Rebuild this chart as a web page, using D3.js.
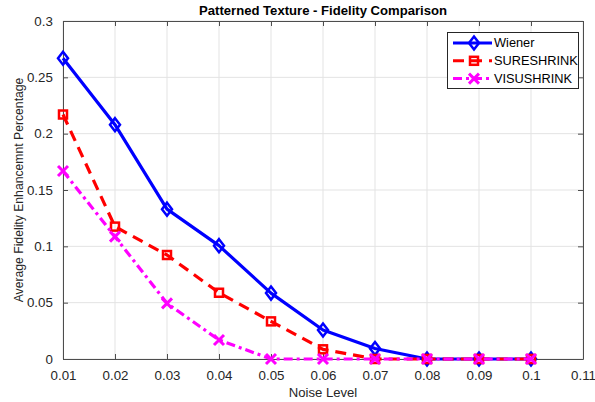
<!DOCTYPE html>
<html>
<head>
<meta charset="utf-8">
<script src="https://cdn.jsdelivr.net/npm/d3@7"></script>
<style>
  html, body { margin: 0; padding: 0; background: #fff; }
  svg { display: block; font-family: "Liberation Sans", Arial, sans-serif; }
</style>
</head>
<body>
<svg id="chart" width="595" height="402"></svg>
<script>
// Noise levels on the x axis
const noiseLevels = [0.01, 0.02, 0.03, 0.04, 0.05, 0.06, 0.07, 0.08, 0.09, 0.10];

// Average fidelity enhancement for each denoising method
const wiener     = [0.267, 0.208, 0.133, 0.1006, 0.0585, 0.0257, 0.0093, 0, 0, 0];
const sureShrink = [0.217, 0.1175, 0.0923, 0.0588, 0.0334, 0.0086, 0, 0, 0, 0];
const visuShrink = [0.1669, 0.1086, 0.0494, 0.0169, 0, 0, 0, 0, 0, 0];

const seriesNames = ["Wiener", "SURESHRINK", "VISUSHRINK"];

// Axis tick values
const xTicks = [0.01, 0.02, 0.03, 0.04, 0.05, 0.06, 0.07, 0.08, 0.09, 0.10, 0.11];
const xTickLabels = ["0.01", "0.02", "0.03", "0.04", "0.05", "0.06", "0.07", "0.08", "0.09", "0.1", "0.11"];
const yTicks = [0, 0.05, 0.1, 0.15, 0.2, 0.25, 0.3];
const yTickLabels = ["0", "0.05", "0.1", "0.15", "0.2", "0.25", "0.3"];

const svg = d3.select("#chart");
const pLeft = 63, pRight = 583, pTop = 21, pBottom = 359;
const axisColor = "#4d4d4d";
const textColor = "#262626";
const stretch = "scale(1.066,1)";   // text is drawn slightly wide

const x = d3.scaleLinear().domain([0.01, 0.11]).range([pLeft, pRight]);
const y = d3.scaleLinear().domain([0, 0.3]).range([pBottom, pTop]);

// Grid
const grid = svg.append("g");
grid.selectAll("line.gx").data(xTicks).join("line")
  .attr("x1", d => x(d)).attr("x2", d => x(d))
  .attr("y1", pTop).attr("y2", pBottom)
  .attr("stroke", "#e3e3e3").attr("stroke-width", 1);
grid.selectAll("line.gy").data(yTicks).join("line")
  .attr("y1", d => y(d)).attr("y2", d => y(d))
  .attr("x1", pLeft).attr("x2", pRight)
  .attr("stroke", "#e3e3e3").attr("stroke-width", 1);

// Axes (ticks pointing inward on all four sides)
const fmtX = (d, i) => xTickLabels[i];
const fmtY = (d, i) => yTickLabels[i];
const bottomAxis = d3.axisBottom(x).tickValues(xTicks).tickFormat(fmtX).tickSizeInner(-5).tickSizeOuter(0).tickPadding(12);
const topAxis = d3.axisTop(x).tickValues(xTicks).tickFormat("").tickSizeInner(-5).tickSizeOuter(0);
const leftAxis = d3.axisLeft(y).tickValues(yTicks).tickFormat(fmtY).tickSizeInner(-5).tickSizeOuter(0).tickPadding(9.5);
const rightAxis = d3.axisRight(y).tickValues(yTicks).tickFormat("").tickSizeInner(-5).tickSizeOuter(0);

function styleAxis(g) {
  g.selectAll("path.domain").attr("stroke", axisColor).attr("stroke-width", 1);
  g.selectAll(".tick line").attr("stroke", axisColor).attr("stroke-width", 1);
  g.selectAll(".tick text").attr("fill", textColor).style("font-size", "12.5px")
    .style("font-family", '"Liberation Sans", Arial, sans-serif')
    .attr("transform", stretch);
}

svg.append("g").attr("transform", `translate(0,${pBottom})`).call(bottomAxis).call(styleAxis);
svg.append("g").attr("transform", `translate(0,${pTop})`).call(topAxis).call(styleAxis);
svg.append("g").attr("transform", `translate(${pLeft},0)`).call(leftAxis).call(styleAxis);
svg.append("g").attr("transform", `translate(${pRight},0)`).call(rightAxis).call(styleAxis);

// Marker shapes
const diamond = (g, cx, cy, color) => g.append("path")
  .attr("d", `M${cx},${cy - 6.5}L${cx + 5},${cy}L${cx},${cy + 6.5}L${cx - 5},${cy}Z`)
  .attr("fill", "none").attr("stroke", color).attr("stroke-width", 2.5);
const square = (g, cx, cy, color) => g.append("rect")
  .attr("x", cx - 4).attr("y", cy - 4).attr("width", 8).attr("height", 8)
  .attr("fill", "none").attr("stroke", color).attr("stroke-width", 2.5);
const cross = (g, cx, cy, color) => g.append("path")
  .attr("d", `M${cx - 5},${cy - 5}L${cx + 5},${cy + 5}M${cx - 5},${cy + 5}L${cx + 5},${cy - 5}`)
  .attr("fill", "none").attr("stroke", color).attr("stroke-width", 3);

const series = [
  { name: seriesNames[0], values: wiener, color: "#0000ff", dash: null, marker: diamond },
  { name: seriesNames[1], values: sureShrink, color: "#ff0000", dash: "11,7", marker: square },
  { name: seriesNames[2], values: visuShrink, color: "#ff00ff", dash: "9,4,3,4", marker: cross }
];

const line = d3.line().x(d => x(d[0])).y(d => y(d[1]));
const plot = svg.append("g");
series.forEach(s => {
  const pts = noiseLevels.map((n, i) => [n, s.values[i]]);
  plot.append("path").attr("d", line(pts))
    .attr("fill", "none").attr("stroke", s.color).attr("stroke-width", 3.2)
    .attr("stroke-dasharray", s.dash).attr("stroke-linejoin", "round");
  pts.forEach(p => s.marker(plot, x(p[0]), y(p[1]), s.color));
});

// Title and axis labels
svg.append("text").attr("transform", `translate(${(pLeft + pRight) / 2},15) ${stretch}`)
  .attr("text-anchor", "middle").attr("fill", "#000")
  .style("font-size", "12.3px").style("font-weight", "bold")
  .text("Patterned Texture - Fidelity Comparison");
svg.append("text").attr("transform", `translate(${(pLeft + pRight) / 2},397) ${stretch}`)
  .attr("text-anchor", "middle").attr("fill", textColor)
  .style("font-size", "12.3px").text("Noise Level");
svg.append("text").attr("transform", `translate(22.5,${(pTop + pBottom) / 2}) rotate(-90)`)
  .attr("text-anchor", "middle").attr("fill", textColor)
  .style("font-size", "12.2px").text("Average Fidelity Enhancemnt Percentage");

// Legend
const lg = svg.append("g");
lg.append("rect").attr("x", 447.5).attr("y", 32.5).attr("width", 131).attr("height", 56)
  .attr("fill", "#fff").attr("stroke", "#262626").attr("stroke-width", 1);
series.forEach((s, i) => {
  const cy = 43 + i * 17.8;
  lg.append("line").attr("x1", 453).attr("x2", 492).attr("y1", cy).attr("y2", cy)
    .attr("stroke", s.color).attr("stroke-width", 3).attr("stroke-dasharray", s.dash);
  s.marker(lg, 474, cy, s.color);
  lg.append("text").attr("transform", `translate(494,${cy}) ${stretch}`).attr("dy", "0.35em")
    .attr("fill", "#000").style("font-size", "12px").text(s.name);
});
</script>
</body>
</html>
